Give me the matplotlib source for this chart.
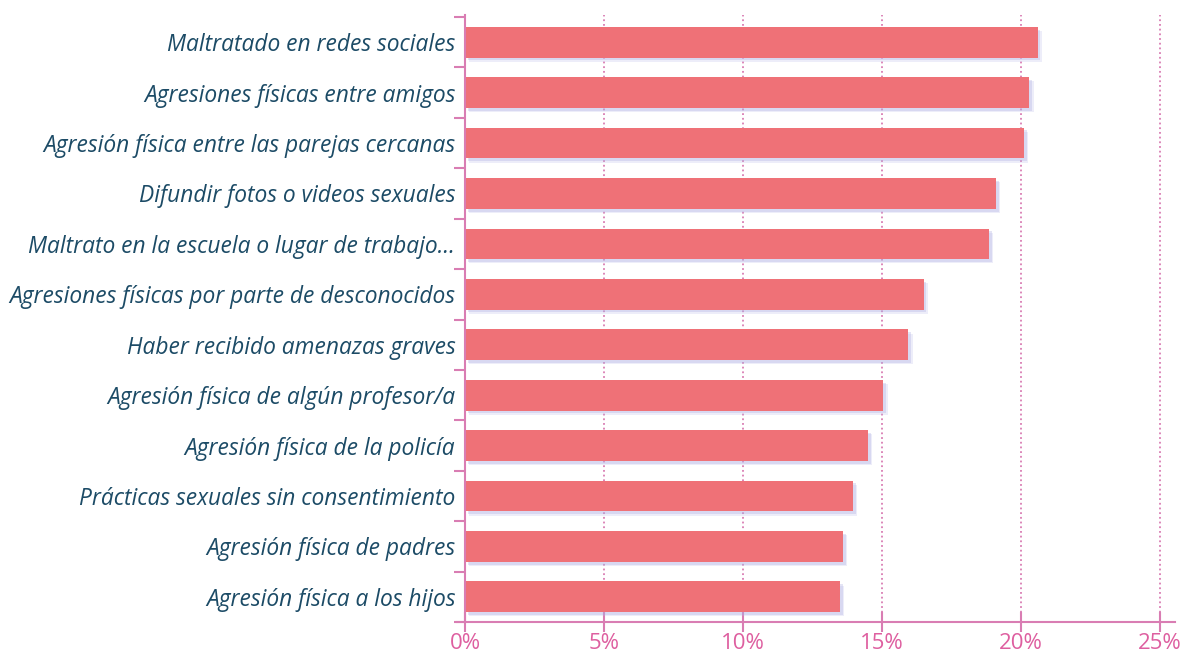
import matplotlib.pyplot as plt
import matplotlib.patheffects as pe
import numpy as np

categories = [
    'Maltratado en redes sociales',
    'Agresiones físicas entre amigos',
    'Agresión física entre las parejas cercanas',
    'Difundir fotos o videos sexuales',
    'Maltrato en la escuela o lugar de trabajo...',
    'Agresiones físicas por parte de desconocidos',
    'Haber recibido amenazas graves',
    'Agresión física de algún profesor/a',
    'Agresión física de la policía',
    'Prácticas sexuales sin consentimiento',
    'Agresión física de padres',
    'Agresión física a los hijos',
]
values = [20.6, 20.3, 20.1, 19.1, 18.85, 16.5, 15.95, 15.05, 14.5, 13.95, 13.6, 13.5]
xticks = [0, 5, 10, 15, 20, 25]
xtick_labels = ['0%', '5%', '10%', '15%', '20%', '25%']

bar_color = '#EF7177'
pink = '#D97DB3'
tick_text = '#DE5FA0'
label_color = '#1C4B66'

fig = plt.figure(figsize=(11.87, 6.55), dpi=100)
ax = fig.add_axes([457 / 1187, 1 - 622 / 655, (1175 - 457) / 1187, (622 - 15) / 655])

# spines first (set_position resets the ticks)
for s in ['top', 'right']:
    ax.spines[s].set_visible(False)
ax.spines['left'].set_position(('data', 0))
ax.spines['left'].set_color(pink)
ax.spines['left'].set_linewidth(1.5)
ax.spines['bottom'].set_color(pink)
ax.spines['bottom'].set_linewidth(1.5)

y = np.arange(len(categories))

# gridlines
for t in xticks[1:]:
    ax.axvline(t, color=pink, linestyle=(0, (1, 1.6)), linewidth=1.3, zorder=0)

# bars with a soft bluish shadow
shadow = [
    pe.SimplePatchShadow(offset=(3, -3), shadow_rgbFace='#b8b8e8', alpha=0.25),
    pe.SimplePatchShadow(offset=(2, -2), shadow_rgbFace='#a8a8e0', alpha=0.3),
    pe.Normal(),
]
ax.barh(y, values, height=0.61, color=bar_color, zorder=2, path_effects=shadow)

ax.set_xlim(-0.29, 25.54)
ax.set_ylim(11.48, -0.54)

ax.set_yticks(y)
ax.set_yticklabels(categories, fontsize=16.4, style='italic', color=label_color,
                   family=['Open Sans', 'DejaVu Sans'])
ax.tick_params(axis='y', length=0, pad=7)
ax.set_yticks(np.arange(-0.5, len(categories), 1), minor=True)
ax.tick_params(axis='y', which='minor', length=8, width=1.5, color=pink, direction='out')

ax.set_xticks(xticks)
ax.set_xticklabels(xtick_labels, fontsize=16, color=tick_text,
                   family=['Open Sans', 'DejaVu Sans'])
ax.tick_params(axis='x', length=14, width=1.5, color=pink, direction='inout', pad=1)

plt.savefig('out.png', dpi=100)
